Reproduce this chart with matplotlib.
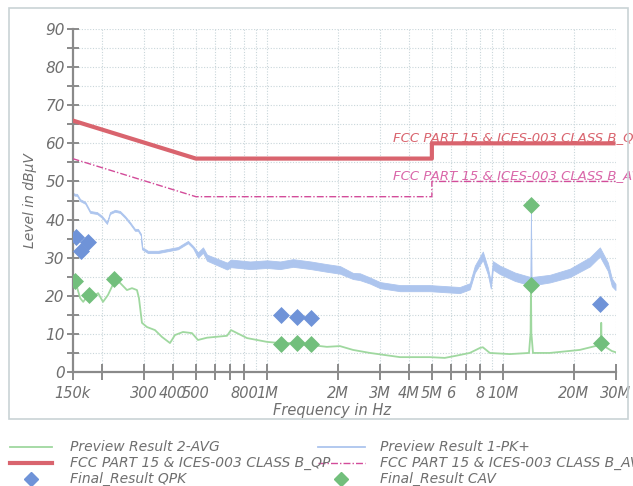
import matplotlib
matplotlib.use("Agg")
import matplotlib.pyplot as plt
from matplotlib.lines import Line2D
from matplotlib.patches import Rectangle

# ---- data (frequencies in MHz, levels in dBuV) ----
pk_freq = [0.150, 0.1537, 0.1567, 0.1616, 0.1698, 0.1782, 0.1907, 0.2000, 0.2100,
           0.2162, 0.2270, 0.2384, 0.2503, 0.2628, 0.2759, 0.2841, 0.2925, 0.2954,
           0.3132, 0.3453, 0.3808, 0.4199, 0.4628, 0.4860, 0.5103, 0.5358, 0.5571,
           0.6775, 0.7043, 0.8480, 1.0012, 1.1368, 1.2904, 1.5330, 1.7954, 2.0387,
           2.3148, 2.4781, 2.7330, 3.0141, 3.6630, 4.9000, 6.5660, 7.2400, 7.6030,
           8.2200, 8.6310, 8.8870, 9.0620, 9.7060, 11.24, 13.10, 13.15, 13.20,
           15.81, 19.22, 23.36, 25.76, 27.85, 28.96, 30.0]
pk_low = [46.55, 46.25, 46.25, 44.85, 44.15, 41.75, 41.45, 40.45, 38.85,
          41.45, 42.05, 41.75, 40.45, 38.85, 37.05, 37.05, 35.75, 32.2,
          31.2, 31.2, 31.7, 32.2, 33.8, 32.5, 30.0, 31.3, 29.2,
          26.9, 27.5, 27.0, 27.3, 27.0, 27.6, 27.0, 26.3, 25.8,
          24.4, 24.1, 23.2, 22.0, 21.2, 21.2, 20.7, 21.7, 26.1,
          29.4, 25.6, 21.9, 26.9, 25.7, 23.9, 22.7, 43.8, 22.7,
          23.5, 24.9, 27.7, 30.3, 26.5, 22.5, 21.5]
pk_high = [47.05, 46.75, 46.75, 45.35, 44.65, 42.25, 41.95, 40.95, 39.35,
           41.95, 42.55, 42.25, 40.95, 39.35, 37.55, 37.55, 36.25, 32.8,
           31.8, 31.8, 32.3, 32.8, 34.4, 33.1, 31.4, 32.7, 30.8,
           28.7, 29.5, 29.0, 29.3, 29.0, 29.6, 29.0, 28.3, 27.8,
           26.0, 25.9, 24.8, 23.6, 22.8, 22.8, 22.3, 23.3, 27.9,
           31.6, 27.4, 23.7, 29.1, 27.9, 26.1, 24.9, 43.8, 24.9,
           25.5, 27.1, 30.1, 32.7, 28.7, 24.5, 23.1]

avg_freq = [0.150, 0.1537, 0.1616, 0.1665, 0.1748, 0.1834, 0.1926, 0.2020, 0.2120,
            0.2270, 0.2384, 0.2552, 0.2680, 0.2814, 0.2869, 0.2954, 0.3101, 0.3354,
            0.3591, 0.3883, 0.4077, 0.4408, 0.4813, 0.5103, 0.5571, 0.6775, 0.7043,
            0.8236, 1.0012, 1.1368, 1.2904, 1.7954, 2.0387, 2.3148, 2.7330, 3.6630,
            4.9000, 5.6700, 6.2540, 7.2400, 7.9830, 8.2200, 8.8010, 10.705, 12.90,
            13.05, 13.10, 13.15, 13.20, 13.25, 13.41, 15.81, 21.18, 25.76, 26.00,
            26.10, 26.20, 28.96, 30.0]
avg_level = [24.5, 24.1, 19.4, 18.4, 20.2, 19.7, 20.7, 18.4, 20.2,
             24.1, 23.4, 21.5, 22.0, 21.5, 19.4, 12.9, 11.8, 11.0,
             9.2, 7.6, 9.7, 10.5, 10.2, 8.4, 9.0, 9.5, 11.0,
             8.9, 7.9, 7.6, 7.6, 6.6, 6.8, 5.8, 5.0, 3.9,
             3.9, 3.7, 4.2, 5.0, 6.3, 6.5, 5.0, 4.7, 5.0,
             9.0, 10.0, 22.7, 10.0, 9.0, 5.0, 5.0, 5.8, 7.1, 7.0,
             12.9, 7.2, 5.5, 5.2]

qp_limit_freq = [0.15, 0.5, 5.0, 5.0, 30.0]
qp_limit_level = [66, 56, 56, 60, 60]
av_limit_freq = [0.15, 0.5, 5.0, 5.0, 30.0]
av_limit_level = [56, 46, 46, 50, 50]

qpk_freq = [0.1552, 0.1631, 0.1752, 1.148, 1.337, 1.533, 25.9]
qpk_level = [35.5, 31.8, 34.2, 15.0, 14.5, 14.3, 17.8]
cav_freq = [0.1537, 0.1764, 0.2255, 1.148, 1.337, 1.533, 13.15, 13.15, 26.1]
cav_level = [24.0, 20.2, 24.4, 7.3, 7.5, 7.3, 43.8, 22.7, 7.5]

xtick_vals = [0.15, 0.2, 0.3, 0.4, 0.5, 0.6, 0.7, 0.8, 1, 2, 3, 4, 5, 6, 7, 8, 10, 20, 30]
xtick_text = ["150k", "", "300", "400", "500", "", "", "800", "1M", "2M", "3M",
              "4M", "5M", "6", "", "8", "10M", "20M", "30M"]

qp_name = "FCC PART 15 & ICES-003 CLASS B_QP"
av_name = "FCC PART 15 & ICES-003 CLASS B_AV"

# ---- style ----
C_TXT = "#6f6f6f"
C_AX = "#8a8a8a"
C_GRID = "#c9d6da"
C_QP = "#d9646e"
C_AV = "#d34c9a"
C_PK = "#adc5ee"
C_AVG = "#9fd89f"
C_QPK = "#6f93d8"
C_CAV = "#72bf7c"
FONT = dict(family="DejaVu Sans", style="oblique")

W, H = 633, 486
fig = plt.figure(figsize=(W / 100, H / 100), dpi=100)
fig.patch.set_facecolor("white")

# outer frame
fig.add_artist(Rectangle((9 / W, 1 - 419 / H), 619 / W, 411 / H, transform=fig.transFigure,
                         fill=False, edgecolor="#c9d3d6", lw=1.2))

ax = fig.add_axes([72.5 / W, 1 - 372 / H, 543 / W, 343 / H])
ax.set_xscale("log")
ax.set_xlim(0.15, 30)
ax.set_ylim(0, 90)

# grid
grid_x = [0.2, 0.3, 0.4, 0.5, 0.6, 0.7, 0.8, 0.9, 1, 2, 3, 4, 5, 6, 7, 8, 9, 10, 20, 30]
for gx in grid_x:
    ax.axvline(gx, color=C_GRID, lw=0.8, ls=(0, (1, 1.5)), zorder=0)
for gy in range(5, 91, 5):
    ax.axhline(gy, color=C_GRID, lw=0.8, ls=(0, (1, 1.5)), zorder=0)

# traces
ax.fill_between(pk_freq, pk_low, pk_high, color=C_PK, lw=0.6, edgecolor=C_PK, zorder=2)
ax.plot(avg_freq, avg_level, color=C_AVG, lw=1.3, zorder=3)

# limits
ax.plot(qp_limit_freq, qp_limit_level, color=C_QP, lw=3, zorder=4, solid_capstyle="butt")
ax.plot(av_limit_freq, av_limit_level, color=C_AV, lw=1.0, ls=(0, (5, 1.5, 1, 1.5)), zorder=4)
ax.text(3.41, 61.5, qp_name, color=C_QP, fontsize=9.5, va="center", ha="left",
        clip_on=False, **FONT)
ax.text(3.41, 51.6, av_name, color=C_AV, fontsize=9.5, va="center", ha="left",
        clip_on=False, alpha=0.85, **FONT)

# final results
ax.scatter(qpk_freq, qpk_level, marker="D", s=75, color=C_QPK, zorder=6, linewidths=0)
ax.scatter(cav_freq, cav_level, marker="D", s=75, color=C_CAV, zorder=6, linewidths=0)

# axes styling
for side in ("top", "right"):
    ax.spines[side].set_visible(False)
for side in ("left", "bottom"):
    ax.spines[side].set_color(C_AX)
    ax.spines[side].set_linewidth(1.6)

ax.set_yticks(range(0, 91, 10))
ax.set_yticks(range(5, 90, 10), minor=True)
ax.set_xticks(xtick_vals)
ax.set_xticklabels(xtick_text)
ax.xaxis.set_minor_locator(matplotlib.ticker.NullLocator())
ax.tick_params(axis="y", which="both", direction="inout", length=9, width=1.4,
               color=C_AX, labelcolor=C_TXT, labelsize=11, pad=1)
ax.tick_params(axis="x", which="both", direction="inout", length=12, width=1.4,
               color=C_AX, labelcolor=C_TXT, labelsize=10.5, pad=4)
for lab in ax.get_xticklabels() + ax.get_yticklabels():
    lab.set_family("DejaVu Sans")
    lab.set_style("oblique")

ax.set_ylabel("Level in dBμV", color=C_TXT, fontsize=10, labelpad=6, **FONT)
fig.text(332 / W, 1 - 410 / H, "Frequency in Hz", color=C_TXT, fontsize=10.5,
         ha="center", va="center", **FONT)

# legend
rows = [447, 463, 479]


def fy(py):
    return 1 - py / H


def legend_line(x0, x1, py, **kw):
    fig.add_artist(Line2D([x0 / W, x1 / W], [fy(py), fy(py)], transform=fig.transFigure, **kw))


legend_line(10, 52, rows[0], color=C_AVG, lw=1.3)
legend_line(10, 52, rows[1], color=C_QP, lw=3)
fig.add_artist(Line2D([31 / W], [fy(rows[2])], transform=fig.transFigure, marker="D",
                      markersize=7, color=C_QPK, lw=0))
legend_line(318, 365, rows[0], color=C_PK, lw=1.3)
legend_line(318, 365, rows[1], color=C_AV, lw=1.0, ls=(0, (5, 1.5, 1, 1.5)))
fig.add_artist(Line2D([341 / W], [fy(rows[2])], transform=fig.transFigure, marker="D",
                      markersize=7, color=C_CAV, lw=0))

labels_left = ["Preview Result 2-AVG", qp_name, "Final_Result QPK"]
labels_right = ["Preview Result 1-PK+", av_name, "Final_Result CAV"]
for py, t in zip(rows, labels_left):
    fig.text(70 / W, fy(py), t, color=C_TXT, fontsize=10, va="center", ha="left", **FONT)
for py, t in zip(rows, labels_right):
    fig.text(380 / W, fy(py), t, color=C_TXT, fontsize=10, va="center", ha="left", **FONT)

fig.savefig("out.png", dpi=100, facecolor="white")
